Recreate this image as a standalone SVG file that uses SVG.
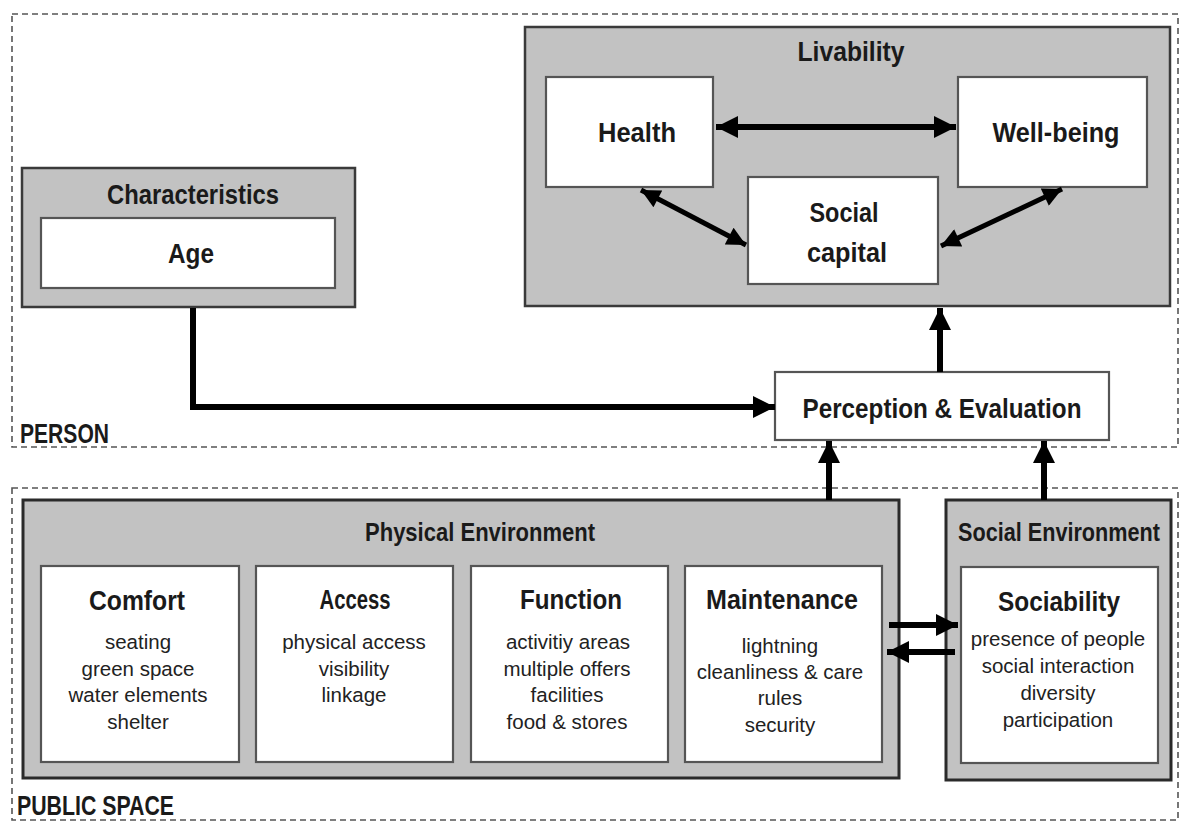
<svg xmlns="http://www.w3.org/2000/svg" width="1180" height="823" viewBox="0 0 1180 823">
<style>
.zone{fill:none;stroke:#555;stroke-width:1.6;stroke-dasharray:6 4}
.grp{fill:#c2c2c2;stroke:#3a3a3a;stroke-width:2.5}
.grp2{fill:#c2c2c2;stroke:#2a2a2a;stroke-width:3}
.box{fill:#fff;stroke:#555;stroke-width:2.2}
.t{font-family:"Liberation Sans",Arial,sans-serif;font-weight:bold;fill:#1a1a1a;text-anchor:middle;font-size:28px}
.mid{font-size:26px}
.lab{font-family:"Liberation Sans",Arial,sans-serif;font-weight:bold;fill:#1a1a1a;font-size:28px}
.it{font-family:"Liberation Sans",Arial,sans-serif;font-size:20.5px;fill:#222;text-anchor:middle}
.c{fill:none;stroke:#000;stroke-width:6}
.cs{fill:none;stroke:#000;stroke-width:5}
</style>
<defs>
<marker id="ah" viewBox="0 0 10 10" refX="10" refY="5" markerWidth="27" markerHeight="22" markerUnits="userSpaceOnUse" orient="auto-start-reverse">
<path d="M0,0 L10,5 L0,10 Z" fill="#000"/>
</marker>
<marker id="ahs" viewBox="0 0 10 10" refX="10" refY="5" markerWidth="24" markerHeight="19" markerUnits="userSpaceOnUse" orient="auto-start-reverse">
<path d="M0,0 L10,5 L0,10 Z" fill="#000"/>
</marker>
</defs>

<g id="person-zone">
<rect class="zone" x="12" y="14" width="1166" height="433"/>
<text class="lab" x="20" y="443" textLength="89" lengthAdjust="spacingAndGlyphs">PERSON</text>
</g>
<g id="public-space-zone">
<rect class="zone" x="12" y="488" width="1166" height="332"/>
<text class="lab" x="17" y="815" textLength="157" lengthAdjust="spacingAndGlyphs">PUBLIC SPACE</text>
</g>

<g id="characteristics">
<rect class="grp" x="22" y="168" width="333" height="139"/>
<text class="t" x="193" y="204" textLength="172" lengthAdjust="spacingAndGlyphs">Characteristics</text>
<g id="age">
<rect class="box" x="41" y="218" width="294" height="70"/>
<text class="t" x="191" y="263" textLength="46" lengthAdjust="spacingAndGlyphs">Age</text>
</g>
</g>

<g id="livability">
<rect class="grp" x="525" y="27" width="645" height="279"/>
<text class="t" x="851" y="61" textLength="107" lengthAdjust="spacingAndGlyphs">Livability</text>
<g id="health">
<rect class="box" x="546" y="77" width="167" height="110"/>
<text class="t" x="637" y="142" textLength="78" lengthAdjust="spacingAndGlyphs">Health</text>
</g>
<g id="well-being">
<rect class="box" x="958" y="77" width="189" height="110"/>
<text class="t" x="1056" y="142" textLength="127" lengthAdjust="spacingAndGlyphs">Well-being</text>
</g>
<g id="social-capital">
<rect class="box" x="748" y="177" width="190" height="107"/>
<text class="t" x="844" y="222" textLength="69" lengthAdjust="spacingAndGlyphs">Social</text>
<text class="t" x="847" y="262" textLength="80" lengthAdjust="spacingAndGlyphs">capital</text>
</g>
</g>

<g id="perception">
<rect class="box" x="775" y="372" width="334" height="68"/>
<text class="t" x="942" y="418" textLength="279" lengthAdjust="spacingAndGlyphs">Perception &amp; Evaluation</text>
</g>

<g id="physical-environment">
<rect class="grp2" x="23" y="500" width="876" height="278"/>
<text class="t mid" x="480" y="541" textLength="230" lengthAdjust="spacingAndGlyphs">Physical Environment</text>
<g id="comfort">
<rect class="box" x="41" y="566" width="198" height="196"/>
<text class="t" x="137" y="610" textLength="96" lengthAdjust="spacingAndGlyphs">Comfort</text>
<text class="it" x="138" y="649">seating</text>
<text class="it" x="138" y="676">green space</text>
<text class="it" x="138" y="702">water elements</text>
<text class="it" x="138" y="729">shelter</text>
</g>
<g id="access">
<rect class="box" x="256" y="566" width="197" height="196"/>
<text class="t" x="355" y="609" textLength="71" lengthAdjust="spacingAndGlyphs">Access</text>
<text class="it" x="354" y="649">physical access</text>
<text class="it" x="354" y="676">visibility</text>
<text class="it" x="354" y="702">linkage</text>
</g>
<g id="function">
<rect class="box" x="471" y="566" width="197" height="196"/>
<text class="t" x="571" y="609" textLength="102" lengthAdjust="spacingAndGlyphs">Function</text>
<text class="it" x="568" y="649">activitiy areas</text>
<text class="it" x="567" y="676">multiple offers</text>
<text class="it" x="567" y="702">facilities</text>
<text class="it" x="567" y="729">food &amp; stores</text>
</g>
<g id="maintenance">
<rect class="box" x="685" y="566" width="197" height="196"/>
<text class="t" x="782" y="609" textLength="152" lengthAdjust="spacingAndGlyphs">Maintenance</text>
<text class="it" x="780" y="653">lightning</text>
<text class="it" x="780" y="679">cleanliness &amp; care</text>
<text class="it" x="780" y="705">rules</text>
<text class="it" x="780" y="732">security</text>
</g>
</g>

<g id="social-environment">
<rect class="grp2" x="946" y="500" width="225" height="280"/>
<text class="t mid" x="1059" y="541" textLength="202" lengthAdjust="spacingAndGlyphs">Social Environment</text>
<g id="sociability">
<rect class="box" x="961" y="567" width="197" height="196"/>
<text class="t" x="1059" y="611" textLength="122" lengthAdjust="spacingAndGlyphs">Sociability</text>
<text class="it" x="1058" y="646">presence of people</text>
<text class="it" x="1058" y="673">social interaction</text>
<text class="it" x="1058" y="700">diversity</text>
<text class="it" x="1058" y="727">participation</text>
</g>
</g>

<g id="connectors">
<path class="c" d="M193,308 V407 H775" marker-end="url(#ah)"/>
<path class="c" d="M716,127 H956" marker-start="url(#ah)" marker-end="url(#ah)"/>
<path class="cs" d="M641,190 L746,245" marker-start="url(#ahs)" marker-end="url(#ahs)"/>
<path class="cs" d="M1062,189 L941,246" marker-start="url(#ahs)" marker-end="url(#ahs)"/>
<path class="c" d="M940,372 V308" marker-end="url(#ah)"/>
<path class="c" d="M829,500 V441" marker-end="url(#ah)"/>
<path class="c" d="M1044,500 V441" marker-end="url(#ah)"/>
<path class="c" d="M889,625 H958" marker-end="url(#ah)"/>
<path class="c" d="M955,652 H887" marker-end="url(#ah)"/>
</g>
</svg>
